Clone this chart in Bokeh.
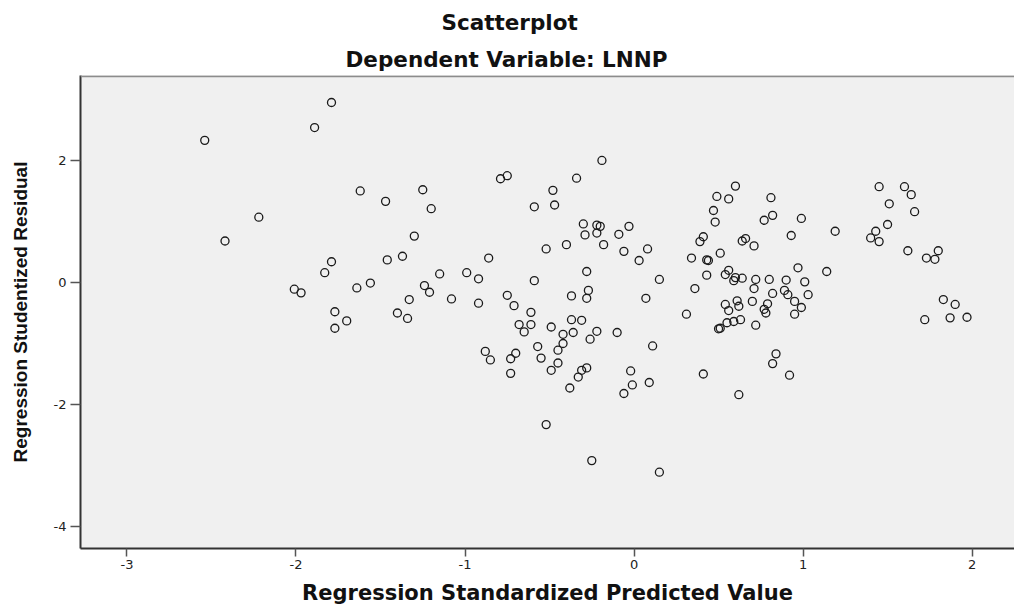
from bokeh.plotting import figure
from bokeh.models import Range1d, Title, Span, ColumnDataSource
from bokeh.embed import file_html
from bokeh.resources import INLINE

# Regression standardized predicted value (x) and studentized residual (y)
pred = [-1.79, -1.89, -2.54, -1.62, -1.47, -1.25, -1.20, -2.22, -2.42, -1.30,
        -1.46, -1.37, -1.79, -1.83, -2.01, -1.97, -1.64, -1.56, -1.24, -1.21,
        -1.33, -1.40, -1.34, -1.77, -1.70, -1.77, -0.19, -0.79, -0.75, -0.34,
        -0.48, -0.59, -0.47, -0.30, -0.22, -0.20, -0.03, -0.29, -0.22, -0.09,
        -0.52, -0.40, -0.18, -0.06, 0.03, 0.08, -0.86, -1.15, -0.99, -0.92,
        -0.59, -0.28, -1.08, -0.92, -0.75, -0.71, -0.37, -0.27, -0.28, 0.07,
        -0.61, -0.68, -0.61, -0.65, -0.49, -0.37, -0.31, -0.42, -0.36, -0.22,
        -0.26, -0.10, -0.88, -0.85, -0.70, -0.73, -0.73, -0.57, -0.55, -0.42,
        -0.45, -0.45, -0.49, -0.28, -0.31, -0.33, -0.38, -0.02, -0.01, -0.06,
        -0.52, -0.25, 0.15, 0.11, 0.09, 0.60, 0.49, 0.56, 0.81, 0.47,
        0.48, 0.82, 0.77, 0.99, 1.19, 0.93, 0.41, 0.39, 0.66, 0.64,
        0.71, 0.34, 0.43, 0.44, 0.51, 0.97, 1.14, 0.15, 0.43, 0.56,
        0.54, 0.60, 0.59, 0.64, 0.72, 0.71, 0.80, 0.90, 1.01, 0.36,
        0.82, 0.89, 0.91, 1.03, 0.95, 0.99, 0.54, 0.61, 0.62, 0.56,
        0.70, 0.79, 0.77, 0.78, 0.95, 0.31, 0.55, 0.59, 0.63, 0.50,
        0.51, 0.72, 0.84, 0.82, 0.41, 0.92, 0.62, 1.45, 1.60, 1.64,
        1.51, 1.66, 1.50, 1.43, 1.40, 1.45, 1.62, 1.73, 1.78, 1.80,
        1.83, 1.90, 1.72, 1.87, 1.97]

resid = [2.95, 2.54, 2.33, 1.50, 1.33, 1.52, 1.21, 1.07, 0.68, 0.76,
         0.37, 0.43, 0.34, 0.16, -0.11, -0.17, -0.09, -0.01, -0.05, -0.16,
         -0.28, -0.50, -0.59, -0.48, -0.63, -0.75, 2.00, 1.70, 1.75, 1.71,
         1.51, 1.24, 1.27, 0.96, 0.94, 0.92, 0.92, 0.78, 0.81, 0.79,
         0.55, 0.62, 0.62, 0.51, 0.36, 0.55, 0.40, 0.14, 0.16, 0.06,
         0.03, 0.18, -0.27, -0.34, -0.21, -0.38, -0.22, -0.13, -0.26, -0.26,
         -0.49, -0.69, -0.69, -0.81, -0.73, -0.61, -0.62, -0.85, -0.82, -0.80,
         -0.93, -0.82, -1.13, -1.27, -1.16, -1.25, -1.49, -1.05, -1.24, -1.00,
         -1.11, -1.32, -1.44, -1.40, -1.44, -1.55, -1.73, -1.45, -1.68, -1.82,
         -2.33, -2.92, -3.11, -1.04, -1.64, 1.58, 1.41, 1.37, 1.39, 1.18,
         0.99, 1.10, 1.02, 1.05, 0.84, 0.77, 0.75, 0.67, 0.72, 0.68,
         0.60, 0.40, 0.37, 0.36, 0.48, 0.24, 0.18, 0.05, 0.12, 0.20,
         0.13, 0.08, 0.03, 0.07, 0.05, -0.10, 0.05, 0.04, 0.01, -0.10,
         -0.18, -0.13, -0.20, -0.20, -0.31, -0.41, -0.36, -0.30, -0.39, -0.46,
         -0.31, -0.35, -0.44, -0.50, -0.52, -0.52, -0.66, -0.64, -0.61, -0.76,
         -0.75, -0.70, -1.17, -1.33, -1.50, -1.52, -1.84, 1.57, 1.57, 1.44,
         1.29, 1.16, 0.95, 0.84, 0.73, 0.67, 0.52, 0.40, 0.38, 0.52,
         -0.28, -0.36, -0.61, -0.58, -0.57]

x_ticks = [-3, -2, -1, 0, 1, 2]
y_ticks = [-4, -2, 0, 2]

title_text = "Scatterplot"
subtitle_text = "Dependent Variable: LNNP"
x_label = "Regression Standardized Predicted Value"
y_label = "Regression Studentized Residual"

source = ColumnDataSource(data=dict(x=pred, y=resid))

p = figure(width=1014, height=608, output_backend="svg", toolbar_location=None,
           x_range=Range1d(-3.275, 2.251), y_range=Range1d(-4.361, 3.393),
           min_border_left=80, min_border_right=0, min_border_top=75,
           min_border_bottom=60, title=None)

p.background_fill_color = "#f0f0f0"
p.border_fill_color = "white"
p.outline_line_color = None
p.xgrid.visible = False
p.ygrid.visible = False

for ax in (p.xaxis, p.yaxis):
    ax.axis_line_color = "#333333"
    ax.axis_line_width = 2
    ax.major_tick_line_color = "#555555"
    ax.major_tick_line_width = 1.5
    ax.major_tick_in = 0
    ax.minor_tick_line_color = None
    ax.major_label_text_font = "DejaVu Sans"
    ax.major_label_text_font_size = "13px"
    ax.major_label_text_color = "#222222"
    ax.axis_label_text_font_style = "bold"
    ax.axis_label_text_color = "#111111"

p.xaxis.ticker = x_ticks
p.yaxis.ticker = y_ticks
p.xaxis.major_label_overrides = {t: str(t) for t in x_ticks}
p.yaxis.major_label_overrides = {t: str(t) for t in y_ticks}
p.xaxis.major_tick_out = 8
p.yaxis.major_tick_out = 10
p.xaxis.major_label_standoff = 3
p.yaxis.major_label_standoff = 4

p.xaxis.axis_label = x_label
p.xaxis.axis_label_text_font = "DejaVu Sans"
p.xaxis.axis_label_text_font_size = "21px"
p.xaxis.axis_label_standoff = 9

p.yaxis.axis_label = y_label
p.yaxis.axis_label_text_font = "Liberation Sans"
p.yaxis.axis_label_text_font_size = "19px"
p.yaxis.axis_label_standoff = 20

p.add_layout(Span(location=3.38, dimension="width", line_color="#8c8c8c",
                  line_width=2))

sub = Title(text=subtitle_text, align="left", offset=265, standoff=8,
            text_font="DejaVu Sans", text_font_size="21.5px",
            text_font_style="bold", text_color="#111111")
p.add_layout(sub, "above")
ttl = Title(text=title_text, align="left", offset=361, standoff=12,
            text_font="DejaVu Sans", text_font_size="21.5px",
            text_font_style="bold", text_color="#111111")
p.add_layout(ttl, "above")

p.scatter("x", "y", source=source, marker="circle", size=8,
          fill_color=None, line_color="#1a1a1a", line_width=1.3)

open("out.html", "w").write(file_html(p, INLINE))
